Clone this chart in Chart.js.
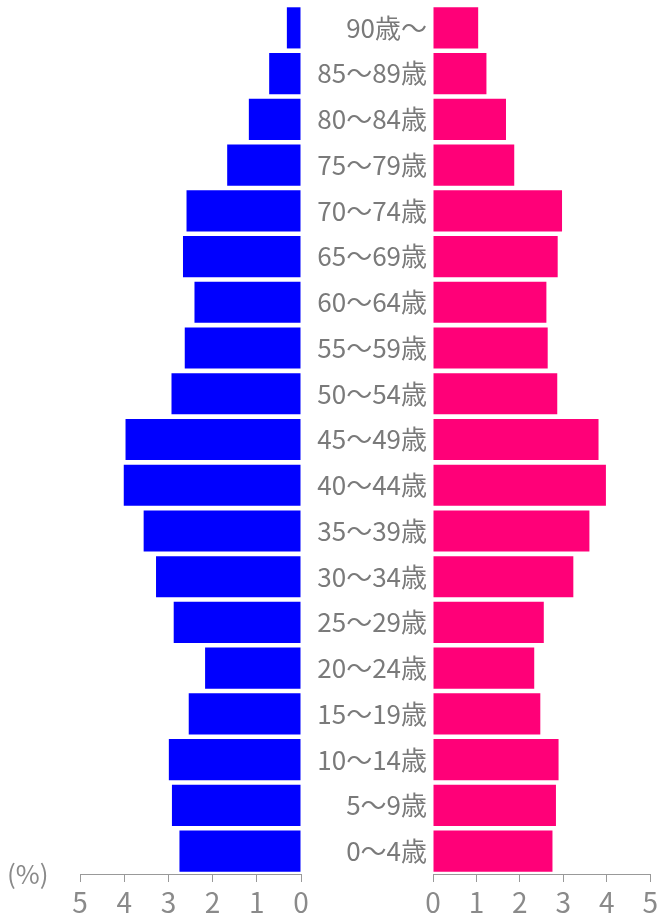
<!DOCTYPE html>
<html lang="ja">
<head>
<meta charset="utf-8">
<script src="https://cdn.jsdelivr.net/npm/chart.js@4.4.1/dist/chart.umd.min.js"></script>
<style>
  body { margin: 0; background: #fff; width: 662px; height: 920px; overflow: hidden; position: relative; font-family: "Noto Sans CJK JP", sans-serif; }
  #maleChart { position: absolute; left: 0; top: 0; }
  #femaleChart { position: absolute; left: 300px; top: 0; }
  #unit { position: absolute; left: 7px; top: 860px; font-size: 26px; color: #8a8a8a; line-height: 1; }
</style>
</head>
<body>
<canvas id="maleChart" width="310" height="920"></canvas>
<canvas id="femaleChart" width="362" height="920"></canvas>
<div id="unit">(%)</div>
<script>
// age groups, oldest at the top
const ageGroups = ['90歳〜', '85〜89歳', '80〜84歳', '75〜79歳', '70〜74歳', '65〜69歳', '60〜64歳',
    '55〜59歳', '50〜54歳', '45〜49歳', '40〜44歳', '35〜39歳', '30〜34歳', '25〜29歳',
    '20〜24歳', '15〜19歳', '10〜14歳', '5〜9歳', '0〜4歳'];
const maleValues = [0.32, 0.72, 1.18, 1.67, 2.59, 2.67, 2.41, 2.63, 2.93, 3.97, 4.01,
    3.56, 3.28, 2.88, 2.17, 2.54, 2.99, 2.92, 2.75];
const femaleValues = [1.04, 1.23, 1.68, 1.87, 2.97, 2.87, 2.61, 2.64, 2.86, 3.81, 3.98,
    3.60, 3.23, 2.55, 2.33, 2.47, 2.89, 2.83, 2.75];
const axisTicks = [0, 1, 2, 3, 4, 5];

const gray = '#999999';
const labelGray = '#7a7a7a';
const fontFamily = '"Noto Sans CJK JP", sans-serif';

function xScale(reverse) {
    return {
        reverse: reverse,
        min: axisTicks[0],
        max: axisTicks[axisTicks.length - 1],
        afterBuildTicks: scale => { scale.ticks = axisTicks.map(v => ({ value: v })); },
        ticks: { color: '#8a8a8a', font: { size: 28, family: fontFamily }, padding: 4 },
        grid: { drawOnChartArea: false, tickLength: 8, color: gray },
        border: { color: gray },
        afterFit: scale => { scale.height = 46; }
    };
}

new Chart(document.getElementById('maleChart').getContext('2d'), {
    type: 'bar',
    data: {
        labels: ageGroups,
        datasets: [{
            label: '男性',
            data: maleValues,
            backgroundColor: '#0000ff',
            categoryPercentage: 0.9,
            barPercentage: 1
        }]
    },
    options: {
        indexAxis: 'y',
        responsive: false,
        animation: false,
        layout: { padding: { left: 80, right: 9, top: 5, bottom: 0 } },
        plugins: { legend: { display: false }, tooltip: { enabled: false } },
        scales: {
            x: xScale(true),
            y: { display: false }
        }
    }
});

new Chart(document.getElementById('femaleChart').getContext('2d'), {
    type: 'bar',
    data: {
        labels: ageGroups,
        datasets: [{
            label: '女性',
            data: femaleValues,
            backgroundColor: '#ff0078',
            categoryPercentage: 0.9,
            barPercentage: 1
        }]
    },
    options: {
        indexAxis: 'y',
        responsive: false,
        animation: false,
        layout: { padding: { left: 0, right: 7, top: 5, bottom: 0 } },
        plugins: { legend: { display: false }, tooltip: { enabled: false } },
        scales: {
            x: xScale(false),
            y: {
                ticks: { color: labelGray, font: { size: 26, family: fontFamily }, padding: 6 },
                grid: { display: false, drawTicks: false },
                border: { display: false },
                afterFit: scale => {
                    scale.width = 133;
                    scale.paddingTop = 0;
                    scale.paddingBottom = 0;
                }
            }
        }
    }
});
</script>
</body>
</html>
